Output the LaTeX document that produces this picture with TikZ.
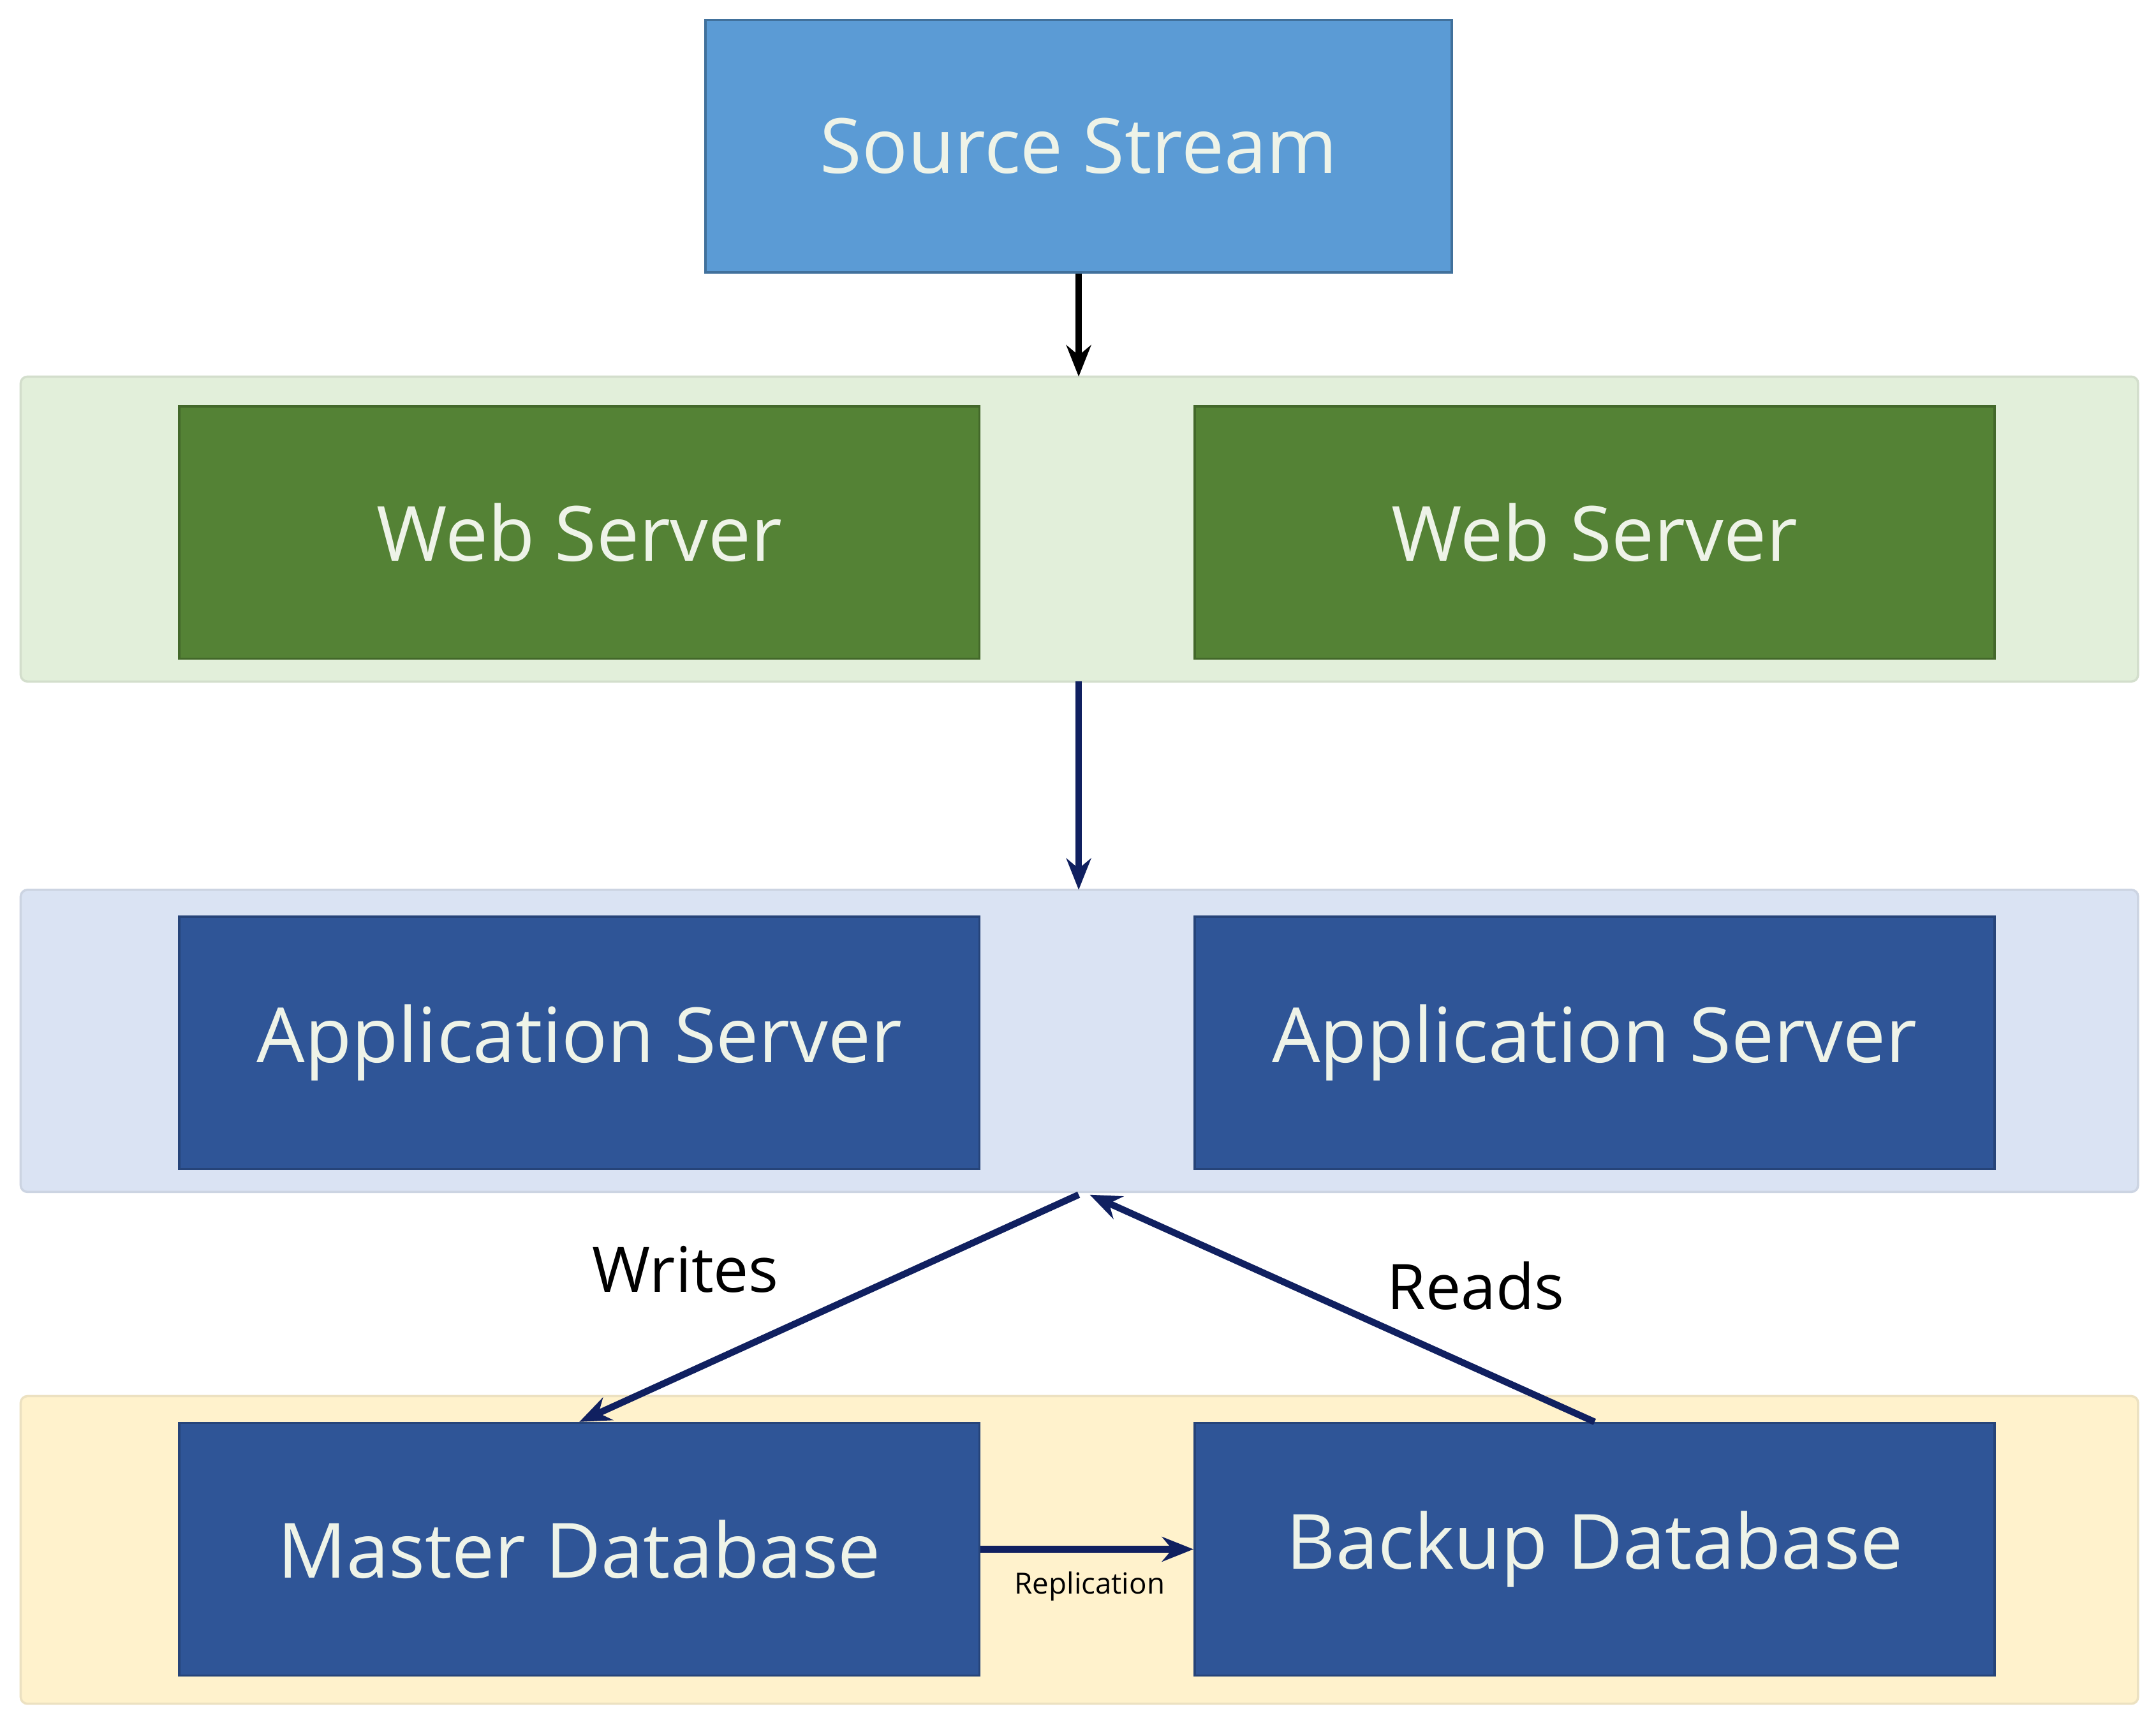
\documentclass[tikz,border=0pt]{standalone}
\usepackage{fontspec}
\setmainfont{Open Sans}
\usetikzlibrary{arrows.meta}
\definecolor{srcfill}{HTML}{5B9BD5}
\definecolor{srcdraw}{HTML}{41719C}
\definecolor{webfill}{HTML}{548235}
\definecolor{appfill}{HTML}{2F5597}
\definecolor{greenband}{HTML}{E2EFDA}
\definecolor{blueband}{HTML}{DAE3F3}
\definecolor{yellowband}{HTML}{FFF2CC}
\definecolor{navy}{HTML}{102060}
\definecolor{boxtext}{HTML}{EEF3E8}
\begin{document}
\begin{tikzpicture}[x=0.02163cm,y=-0.02163cm,
  box/.style={draw=#1!80!black,fill=#1,line width=1pt,text=boxtext,font=\fontsize{34}{40}\selectfont},
  band/.style={draw=#1!85!gray,fill=#1,line width=1pt,rounded corners=3pt},
  arr/.style={-{Stealth[length=14pt,width=11pt]},line width=3pt,draw=navy},
  lbl/.style={font=\fontsize{28}{32}\selectfont,text=black}]
\useasboundingbox[fill=white] (0,0) rectangle (1563,1250);
\draw[band=greenband] (15,273) rectangle (1550,494);
\draw[band=blueband] (15,645) rectangle (1550,864);
\draw[band=yellowband] (15,1012) rectangle (1550,1235);
\node[box=srcfill,draw=srcdraw,minimum width=541*0.02163cm,minimum height=183*0.02163cm] (src) at (782,106) {Source Stream};
\foreach \n/\x/\y/\c/\t in {w1/420/386/webfill/Web Server, w2/1156/386/webfill/Web Server,
  a1/420/756/appfill/Application Server, a2/1156/756/appfill/Application Server,
  d1/420/1123/appfill/Master Database, d2/1156/1123/appfill/Backup Database}
  \node[box=\c,minimum width=580*0.02163cm,minimum height=183*0.02163cm] (\n) at (\x,\y) {\t};
\coordinate (gtop) at (782,273);
\coordinate (gbot) at (782,494);
\coordinate (btop) at (782,645);
\coordinate (bbot) at (782,866);
\coordinate (rbot) at (790,866);
\draw[arr,draw=black] (src.south) -- (gtop);
\draw[arr] (gbot) -- (btop);
\draw[arr] (bbot) -- (d1.north);
\draw[arr] (d2.north) -- (rbot);
\draw[arr] (d1.east) -- (d2.west);
\node[lbl] (wl) at (497,920) {Writes};
\node[lbl] (rl) at (1070,932) {Reads};
\node[font=\fontsize{13}{15}\selectfont] (repl) at (790,1150) {Replication};
\end{tikzpicture}
\end{document}
